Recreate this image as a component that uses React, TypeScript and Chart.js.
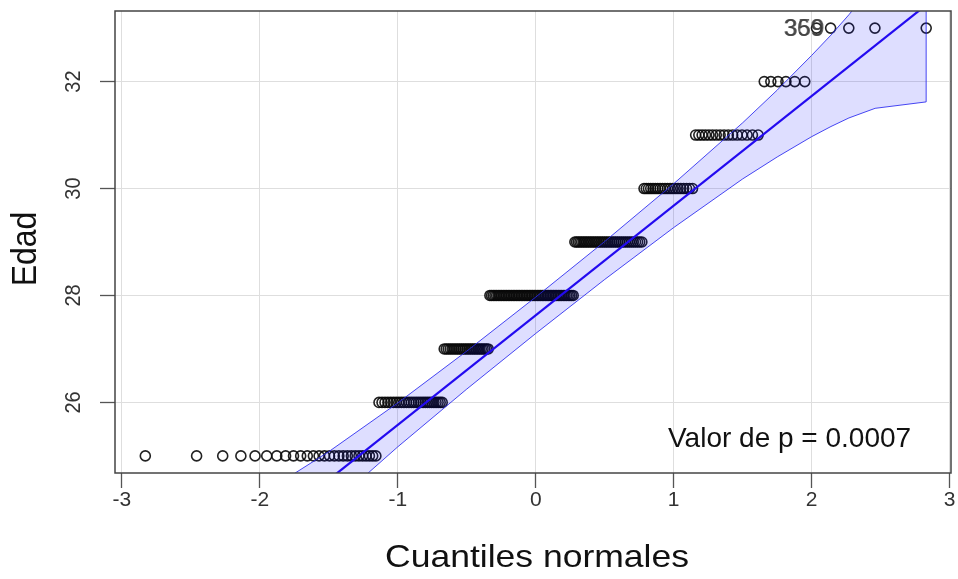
import React, { useEffect, useRef } from 'react';
import { Chart, registerables } from 'chart.js';

Chart.register(...registerables);

// ---- data ----
const ages = [25, 26, 27, 28, 29, 30, 31, 32, 33];
const ageCounts = [27, 27, 25, 52, 37, 20, 16, 6, 5];
const xTicks = [-3, -2, -1, 0, 1, 2, 3];
const yTicks = [26, 28, 30, 32];
const xRange = [-3.05, 3.01];
const yRange = [24.68, 33.32];
const fitIntercept = 27.63;
const fitSlope = 2.05;
const bandQuantiles = [-2.83, -2.46, -2.27, -2.14, -2.0, -1.75, -1.5, -1.0, -0.5, 0, 0.5, 1.0, 1.5, 1.75, 2.0, 2.14, 2.27, 2.46, 2.83];
const bandLower = [20.01, 21.41, 22.01, 22.39, 22.77, 23.42, 24.03, 25.17, 26.25, 27.29, 28.3, 29.27, 30.18, 30.59, 30.97, 31.16, 31.32, 31.5, 31.62];
const bandUpper = [23.64, 23.76, 23.94, 24.1, 24.29, 24.67, 25.08, 25.99, 26.96, 27.97, 29.01, 30.09, 31.23, 31.84, 32.49, 32.87, 33.25, 33.85, 35.25];
const idLabels = ['369', '359'];
const pValueText = 'Valor de p = 0.0007';
const xTitle = 'Cuantiles normales';
const yTitle = 'Edad';

// inverse standard normal CDF (Acklam)
function qnorm(p: number): number {
  const a = [-3.969683028665376e1, 2.209460984245205e2, -2.759285104469687e2, 1.38357751867269e2, -3.066479806614716e1, 2.506628277459239];
  const b = [-5.447609879822406e1, 1.615858368580409e2, -1.556989798598866e2, 6.680131188771972e1, -1.328068155288572e1];
  const c = [-7.784894002430293e-3, -3.223964580411365e-1, -2.400758277161838, -2.549732539343734, 4.374664141464968, 2.938163982698783];
  const d = [7.784695709041462e-3, 3.224671290700398e-1, 2.445134137142996, 3.754408661907416];
  const pLow = 0.02425;
  if (p < pLow) {
    const q = Math.sqrt(-2 * Math.log(p));
    return (((((c[0] * q + c[1]) * q + c[2]) * q + c[3]) * q + c[4]) * q + c[5]) / ((((d[0] * q + d[1]) * q + d[2]) * q + d[3]) * q + 1);
  }
  if (p <= 1 - pLow) {
    const q = p - 0.5;
    const r = q * q;
    return ((((((a[0] * r + a[1]) * r + a[2]) * r + a[3]) * r + a[4]) * r + a[5]) * q) / (((((b[0] * r + b[1]) * r + b[2]) * r + b[3]) * r + b[4]) * r + 1);
  }
  const q = Math.sqrt(-2 * Math.log(1 - p));
  return -(((((c[0] * q + c[1]) * q + c[2]) * q + c[3]) * q + c[4]) * q + c[5]) / ((((d[0] * q + d[1]) * q + d[2]) * q + d[3]) * q + 1);
}

function buildQQPoints() {
  const sample: number[] = [];
  ages.forEach((age, i) => {
    for (let k = 0; k < ageCounts[i]; k++) sample.push(age);
  });
  const n = sample.length;
  return sample.map((y, i) => ({ x: qnorm((i + 1 - 0.5) / n), y }));
}

const FONT = "'Liberation Sans', Arial, Helvetica, sans-serif";

const decorPlugin = {
  id: 'decor',
  afterDraw(chart: any) {
    const { ctx, chartArea, scales } = chart;
    const ys = scales.y;
    const xs = scales.x;
    ctx.save();
    // box
    ctx.strokeStyle = '#444';
    ctx.lineWidth = 1.5;
    ctx.strokeRect(chartArea.left, chartArea.top, chartArea.right - chartArea.left, chartArea.bottom - chartArea.top);
    // y tick labels (rotated)
    ctx.fillStyle = '#333';
    ctx.font = `20px ${FONT}`;
    ctx.textAlign = 'center';
    ctx.textBaseline = 'alphabetic';
    yTicks.forEach((v) => {
      const py = ys.getPixelForValue(v);
      ctx.save();
      ctx.translate(chartArea.left - 35, py);
      ctx.rotate(-Math.PI / 2);
      ctx.scale(1, 1.12);
      ctx.fillText(String(v), 0, 0);
      ctx.restore();
    });
    // axis titles
    ctx.fillStyle = '#111';
    ctx.font = `32px ${FONT}`;
    ctx.textBaseline = 'middle';
    ctx.save();
    ctx.translate(26, (chartArea.top + chartArea.bottom) / 2 + 7);
    ctx.rotate(-Math.PI / 2);
    ctx.scale(1, 1.1);
    ctx.fillText(yTitle, 0, 0);
    ctx.restore();
    ctx.save();
    ctx.translate((chartArea.left + chartArea.right) / 2 + 4, chartArea.bottom + 85);
    ctx.scale(1.11, 1);
    ctx.fillText(xTitle, 0, 0);
    ctx.restore();
    // p value text
    ctx.font = `28px ${FONT}`;
    ctx.textAlign = 'left';
    ctx.textBaseline = 'alphabetic';
    ctx.fillStyle = '#111';
    ctx.fillText(pValueText, chartArea.right - 283, chartArea.bottom - 26);
    // point id labels
    ctx.font = `24px ${FONT}`;
    ctx.fillStyle = 'rgba(60,60,60,0.8)';
    ctx.textAlign = 'right';
    const yl = ys.getPixelForValue(33);
    ctx.fillText(idLabels[0], xs.getPixelForValue(2.035) + 7, yl + 8);
    ctx.fillText(idLabels[1], xs.getPixelForValue(2.035) + 8, yl + 8);
    ctx.restore();
  },
};

export default function App() {
  const ref = useRef<HTMLCanvasElement | null>(null);
  useEffect(() => {
    document.body.style.margin = '0';
    const points = buildQQPoints();
    const lower = bandQuantiles.map((q, i) => ({ x: q, y: bandLower[i] }));
    const upper = bandQuantiles.map((q, i) => ({ x: q, y: bandUpper[i] }));
    const last = bandQuantiles.length - 1;
    const closing = [
      { x: bandQuantiles[last], y: bandLower[last] },
      { x: bandQuantiles[last], y: bandUpper[last] },
    ];
    const fitLine = xRange.map((x) => ({ x, y: fitIntercept + fitSlope * x }));
    const chart = new Chart(ref.current as HTMLCanvasElement, {
      type: 'scatter',
      data: {
        datasets: [
          {
            data: fitLine,
            showLine: true,
            borderColor: 'rgb(35,10,240)',
            borderWidth: 2.2,
            pointRadius: 0,
            order: 1,
          } as any,
          {
            data: lower,
            showLine: true,
            borderColor: 'rgba(40,40,240,0.85)',
            borderWidth: 1,
            pointRadius: 0,
            fill: false,
            order: 2,
          } as any,
          {
            data: upper,
            showLine: true,
            borderColor: 'rgba(40,40,240,0.85)',
            borderWidth: 1,
            pointRadius: 0,
            fill: '-1',
            backgroundColor: 'rgba(0,0,255,0.13)',
            order: 2,
          } as any,
          {
            data: closing,
            showLine: true,
            borderColor: 'rgba(40,40,240,0.85)',
            borderWidth: 1,
            pointRadius: 0,
            order: 2,
          } as any,
          {
            data: points,
            pointRadius: 5,
            pointBorderWidth: 1.6,
            pointBorderColor: 'rgba(10,10,10,0.9)',
            pointBackgroundColor: 'rgba(0,0,0,0)',
            order: 3,
          } as any,
        ],
      },
      options: {
        animation: false,
        responsive: false,
        events: [],
        layout: { padding: { top: 11, right: 7, left: 0, bottom: 0 } },
        plugins: { legend: { display: false }, tooltip: { enabled: false } },
        scales: {
          x: {
            type: 'linear',
            min: xRange[0],
            max: xRange[1],
            afterBuildTicks: (s: any) => {
              s.ticks = xTicks.map((v) => ({ value: v }));
            },
            afterFit: (s: any) => {
              s.height = 106;
            },
            border: { display: false },
            grid: { color: '#dedede', lineWidth: 1, tickColor: '#555', tickLength: 15, tickWidth: 1.3 },
            ticks: { color: '#333', font: { size: 21, family: FONT }, padding: 0, maxRotation: 0, autoSkip: false },
          },
          y: {
            type: 'linear',
            min: yRange[0],
            max: yRange[1],
            afterBuildTicks: (s: any) => {
              s.ticks = yTicks.map((v) => ({ value: v }));
            },
            afterFit: (s: any) => {
              s.width = 115;
            },
            border: { display: false },
            grid: { color: '#dedede', lineWidth: 1, tickColor: '#555', tickLength: 15, tickWidth: 1.3 },
            ticks: { display: false },
          },
        },
      },
      plugins: [decorPlugin],
    } as any);
    return () => chart.destroy();
  }, []);
  return (
    <div style={{ width: 958, height: 579 }}>
      <canvas ref={ref} width={958} height={579} style={{ display: 'block' }} />
    </div>
  );
}
